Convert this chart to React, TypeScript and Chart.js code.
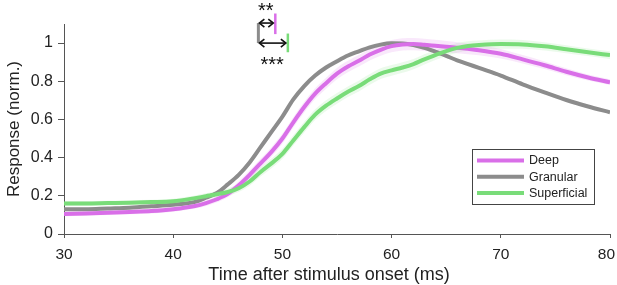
import { useEffect, useRef } from 'react';
import { Chart, registerables } from 'chart.js';

Chart.register(...registerables);

// ---- data ----
const times = [30, 32, 34, 36, 38, 40, 42, 43, 44, 45, 46, 47, 48, 49, 50, 51, 52, 53, 54, 55, 56, 57, 58, 59, 60, 61, 62, 63, 64, 65, 66, 67, 68, 70, 72, 74, 76, 78, 80];
const deep = [0.105, 0.108, 0.111, 0.115, 0.12, 0.13, 0.147, 0.162, 0.182, 0.21, 0.255, 0.31, 0.37, 0.43, 0.5, 0.585, 0.665, 0.735, 0.79, 0.84, 0.877, 0.907, 0.94, 0.965, 0.984, 0.993, 0.995, 0.991, 0.986, 0.981, 0.976, 0.97, 0.963, 0.944, 0.915, 0.884, 0.85, 0.82, 0.795];
const granular = [0.13, 0.13, 0.134, 0.138, 0.145, 0.153, 0.168, 0.19, 0.215, 0.26, 0.31, 0.375, 0.455, 0.535, 0.615, 0.705, 0.775, 0.83, 0.872, 0.905, 0.935, 0.957, 0.978, 0.992, 0.999, 0.998, 0.99, 0.975, 0.955, 0.933, 0.91, 0.89, 0.87, 0.83, 0.784, 0.742, 0.702, 0.668, 0.638];
const superficial = [0.16, 0.16, 0.162, 0.164, 0.167, 0.172, 0.188, 0.198, 0.208, 0.22, 0.24, 0.275, 0.325, 0.37, 0.42, 0.49, 0.56, 0.625, 0.672, 0.71, 0.745, 0.775, 0.81, 0.84, 0.857, 0.872, 0.89, 0.915, 0.937, 0.958, 0.975, 0.985, 0.99, 0.995, 0.993, 0.983, 0.968, 0.952, 0.937];
const deepSem = [0.012, 0.012, 0.012, 0.012, 0.012, 0.013, 0.014, 0.015, 0.016, 0.018, 0.02, 0.022, 0.024, 0.025, 0.026, 0.027, 0.028, 0.028, 0.029, 0.03, 0.03, 0.03, 0.031, 0.031, 0.032, 0.032, 0.032, 0.032, 0.031, 0.03, 0.029, 0.028, 0.027, 0.025, 0.022, 0.02, 0.018, 0.016, 0.015];
const granularSem = [0.008, 0.008, 0.008, 0.008, 0.008, 0.008, 0.009, 0.01, 0.011, 0.012, 0.013, 0.014, 0.015, 0.015, 0.015, 0.015, 0.015, 0.015, 0.014, 0.014, 0.013, 0.013, 0.012, 0.012, 0.012, 0.011, 0.011, 0.011, 0.01, 0.01, 0.01, 0.01, 0.01, 0.01, 0.01, 0.01, 0.01, 0.01, 0.01];
const superficialSem = [0.012, 0.012, 0.012, 0.012, 0.012, 0.013, 0.014, 0.015, 0.016, 0.018, 0.02, 0.022, 0.024, 0.025, 0.026, 0.027, 0.028, 0.028, 0.028, 0.028, 0.028, 0.028, 0.028, 0.028, 0.028, 0.028, 0.027, 0.027, 0.026, 0.026, 0.025, 0.025, 0.024, 0.024, 0.023, 0.022, 0.021, 0.02, 0.02];

const seriesLabels = ['Deep', 'Granular', 'Superficial'];
const xTicks = [30, 40, 50, 60, 70, 80];
const yTicks = [0, 0.2, 0.4, 0.6, 0.8, 1];
const xTitle = 'Time after stimulus onset (ms)';
const yTitle = 'Response (norm.)';

// onset latencies (ms) and significance labels for the annotation
const onsetGranular = 47.8;
const onsetDeep = 49.35;
const onsetSuperficial = 50.5;
const sigDeep = '**';
const sigSuperficial = '***';

const COLORS = ['#d96fe8', '#8c8c8c', '#79dc79'];
const BANDS = ['rgba(217,111,232,0.16)', 'rgba(140,140,140,0.07)', 'rgba(121,220,121,0.15)'];
const FONT = 'Arial, "Liberation Sans", Helvetica, sans-serif';
const TEXT = '#222';

const seriesValues = [deep, granular, superficial];
const seriesSems = [deepSem, granularSem, superficialSem];

function pts(vals: number[]) {
  return times.map((t, i) => ({ x: t, y: vals[i] }));
}

function arrow(ctx: CanvasRenderingContext2D, x1: number, x2: number, y: number) {
  const h = 5;
  ctx.beginPath();
  ctx.moveTo(x1 + 1, y);
  ctx.lineTo(x2 - 1, y);
  ctx.stroke();
  ctx.beginPath();
  ctx.moveTo(x1 + h, y - h * 0.8);
  ctx.lineTo(x1, y);
  ctx.lineTo(x1 + h, y + h * 0.8);
  ctx.stroke();
  ctx.beginPath();
  ctx.moveTo(x2 - h, y - h * 0.8);
  ctx.lineTo(x2, y);
  ctx.lineTo(x2 - h, y + h * 0.8);
  ctx.stroke();
}

const overlayPlugin = {
  id: 'overlay',
  afterDraw(chart: any) {
    const { ctx, chartArea, scales, width } = chart;
    const xs = scales.x;
    const ys = scales.y;
    ctx.save();

    // ---- x tick labels (last one kept inside the canvas) ----
    ctx.fillStyle = TEXT;
    ctx.font = `15.5px ${FONT}`;
    ctx.textBaseline = 'middle';
    ctx.textAlign = 'center';
    xTicks.forEach((v) => {
      const s = String(v);
      const w = ctx.measureText(s).width;
      let px = xs.getPixelForValue(v);
      if (px + w / 2 > width - 2) px = width - 2 - w / 2;
      ctx.fillText(s, px, chartArea.bottom + 21);
    });

    // ---- x title ----
    ctx.font = `18px ${FONT}`;
    ctx.fillText(xTitle, (chartArea.left + chartArea.right) / 2 - 8, chartArea.bottom + 41);

    // ---- annotation: onset latencies ----
    const xg = xs.getPixelForValue(onsetGranular);
    const xd = xs.getPixelForValue(onsetDeep);
    const xsu = xs.getPixelForValue(onsetSuperficial);
    const yUp = ys.getPixelForValue(1.105);
    const yLo = ys.getPixelForValue(1.0);

    ctx.lineCap = 'butt';
    // gray bracket
    ctx.strokeStyle = COLORS[1];
    ctx.lineWidth = 3;
    ctx.beginPath();
    ctx.moveTo(xg, yUp);
    ctx.lineTo(xg, yLo);
    ctx.stroke();
    // deep marker
    ctx.strokeStyle = COLORS[0];
    ctx.lineWidth = 2.5;
    ctx.beginPath();
    ctx.moveTo(xd, ys.getPixelForValue(1.155));
    ctx.lineTo(xd, ys.getPixelForValue(1.047));
    ctx.stroke();
    // superficial marker
    ctx.strokeStyle = COLORS[2];
    ctx.beginPath();
    ctx.moveTo(xsu, ys.getPixelForValue(1.05));
    ctx.lineTo(xsu, ys.getPixelForValue(0.952));
    ctx.stroke();
    // arrows
    ctx.strokeStyle = '#111';
    ctx.lineWidth = 1.6;
    arrow(ctx, xg + 1, xd - 2, yUp);
    arrow(ctx, xg + 1, xsu - 2, yLo);
    // stars
    ctx.fillStyle = '#111';
    ctx.font = `20px ${FONT}`;
    ctx.textAlign = 'center';
    ctx.textBaseline = 'alphabetic';
    ctx.fillText(sigDeep, (xg + xd) / 2 - 1, ys.getPixelForValue(1.195) + 11.5);
    ctx.fillText(sigSuperficial, (xg + xsu) / 2 - 1, ys.getPixelForValue(0.915) + 11.5);

    // ---- legend ----
    const bw = 122;
    const bh = 55;
    const bx = chartArea.right - 16 - bw;
    const by = chartArea.bottom - 85;
    ctx.fillStyle = '#fff';
    ctx.fillRect(bx, by, bw, bh);
    ctx.strokeStyle = '#444';
    ctx.lineWidth = 1;
    ctx.strokeRect(bx + 0.5, by + 0.5, bw, bh);
    ctx.font = `12.5px ${FONT}`;
    ctx.textAlign = 'left';
    ctx.textBaseline = 'middle';
    seriesLabels.forEach((lab, i) => {
      const yy = by + 11.5 + i * 16.3;
      ctx.strokeStyle = COLORS[i];
      ctx.lineWidth = 4;
      ctx.beginPath();
      ctx.moveTo(bx + 5, yy);
      ctx.lineTo(bx + 52, yy);
      ctx.stroke();
      ctx.fillStyle = TEXT;
      ctx.fillText(lab, bx + 57, yy + 0.5);
    });
    ctx.restore();
  },
};

export default function App() {
  const ref = useRef<HTMLCanvasElement | null>(null);
  useEffect(() => {
    if (!ref.current) return;
    const datasets: any[] = [];
    const lineOrder = [1, 2, 0]; // lower order draws on top
    seriesValues.forEach((vals, i) => {
      const sem = seriesSems[i];
      datasets.push({
        label: seriesLabels[i] + ' upper',
        data: pts(vals.map((v, j) => v + sem[j])),
        borderWidth: 0,
        pointRadius: 0,
        fill: false,
        cubicInterpolationMode: 'monotone',
        order: 10,
      });
      datasets.push({
        label: seriesLabels[i] + ' lower',
        data: pts(vals.map((v, j) => v - sem[j])),
        borderWidth: 0,
        pointRadius: 0,
        fill: '-1',
        backgroundColor: BANDS[i],
        cubicInterpolationMode: 'monotone',
        order: 10,
      });
    });
    seriesValues.forEach((vals, i) => {
      datasets.push({
        label: seriesLabels[i],
        data: pts(vals),
        borderColor: COLORS[i],
        borderWidth: 4,
        pointRadius: 0,
        fill: false,
        cubicInterpolationMode: 'monotone',
        order: lineOrder[i],
      });
    });

    const chart = new Chart(ref.current, {
      type: 'line',
      data: { datasets },
      options: {
        animation: false,
        responsive: false,
        events: [],
        layout: { padding: { top: 24, right: 7, left: 0, bottom: 0 } },
        plugins: { legend: { display: false }, tooltip: { enabled: false } },
        scales: {
          x: {
            type: 'linear',
            min: 30,
            max: 80,
            afterBuildTicks: (s: any) => {
              s.ticks = xTicks.map((v) => ({ value: v }));
            },
            afterFit: (s: any) => {
              s.height = 51;
              s.paddingLeft = 0;
              s.paddingRight = 0;
            },
            grid: { drawOnChartArea: false, drawTicks: true, tickLength: 4, color: '#555', lineWidth: 1 },
            border: { display: true, color: '#555', width: 1 },
            ticks: { display: false },
            title: { display: false },
          },
          y: {
            type: 'linear',
            min: 0,
            max: 1.1,
            afterBuildTicks: (s: any) => {
              s.ticks = yTicks.map((v) => ({ value: v }));
            },
            afterFit: (s: any) => {
              s.width = 64;
            },
            grid: { drawOnChartArea: false, drawTicks: true, tickLength: 6, color: '#555', lineWidth: 1 },
            border: { display: true, color: '#555', width: 1 },
            ticks: {
              color: TEXT,
              font: { family: FONT, size: 16 },
              padding: 5,
              callback: (v: any) => String(Math.round(Number(v) * 10) / 10),
            },
            title: {
              display: true,
              text: yTitle,
              color: TEXT,
              font: { family: FONT, size: 17 },
              padding: { top: 4, bottom: 0 },
            },
          },
        },
      },
      plugins: [overlayPlugin],
    } as any);
    return () => chart.destroy();
  }, []);

  return (
    <div style={{ position: 'absolute', left: 0, top: 0, width: 617, height: 285, background: '#fff' }}>
      <canvas ref={ref} width={617} height={285} style={{ display: 'block', width: 617, height: 285 }} />
    </div>
  );
}
